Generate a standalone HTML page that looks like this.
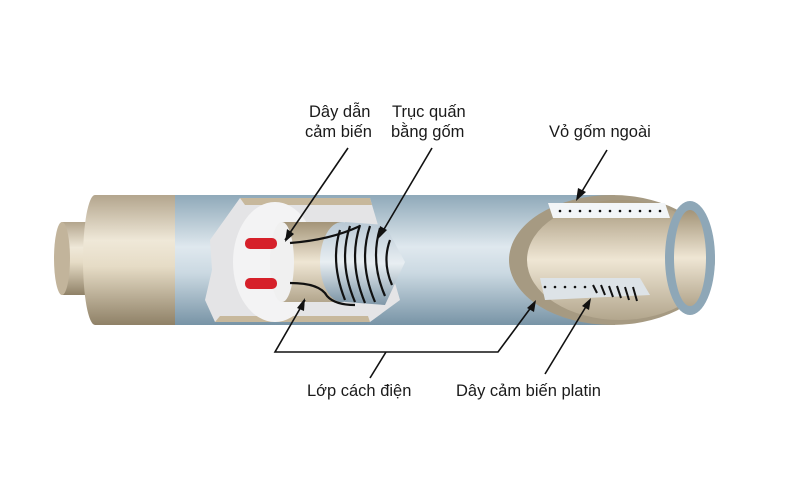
<!DOCTYPE html>
<html><head><meta charset="utf-8"><style>
body{margin:0;background:#fff;}
svg{display:block;}
text{font-family:"Liberation Sans",Arial,sans-serif;font-size:16.5px;fill:#1a1a1a;}
</style></head><body>
<svg width="800" height="500" viewBox="0 0 800 500">
<defs>
<linearGradient id="beige" x1="0" y1="0" x2="0" y2="1">
<stop offset="0" stop-color="#b3a58d"/><stop offset="0.35" stop-color="#efe8d8"/><stop offset="0.55" stop-color="#e6dcc6"/><stop offset="1" stop-color="#8f8167"/></linearGradient>
<linearGradient id="blue" x1="0" y1="0" x2="0" y2="1">
<stop offset="0" stop-color="#8fa9b9"/><stop offset="0.4" stop-color="#dfe8ee"/><stop offset="0.6" stop-color="#cbd9e2"/><stop offset="1" stop-color="#7894a6"/></linearGradient>
<linearGradient id="inner" x1="0" y1="0" x2="0" y2="1">
<stop offset="0" stop-color="#a39478"/><stop offset="0.5" stop-color="#efe6d4"/><stop offset="1" stop-color="#b3a68d"/></linearGradient>
<linearGradient id="core" x1="0" y1="0" x2="0" y2="1">
<stop offset="0" stop-color="#b8c8d4"/><stop offset="0.5" stop-color="#e8eef2"/><stop offset="1" stop-color="#7f97a8"/></linearGradient>
</defs>
<rect x="62" y="222" width="40" height="73" fill="url(#beige)"/>
<ellipse cx="62" cy="258.5" rx="8" ry="36.5" fill="#c2b49b"/>
<rect x="95" y="195" width="110" height="130" fill="url(#beige)"/>
<ellipse cx="95" cy="260" rx="12" ry="65" fill="url(#beige)"/>
<rect x="175" y="195" width="440" height="130" fill="url(#blue)"/>
<path d="M240 198 L370 198 L400 300 L370 322 L215 322 L205 300 L212 270 L210 240 Z" fill="#e4e4e6"/>
<path d="M240 198 L370 198 L372 205 L245 205 Z" fill="#c7b89c"/>
<path d="M215 322 L370 322 L368 316 L220 316 Z" fill="#c7b89c"/>
<ellipse cx="275" cy="262" rx="42" ry="60" fill="#f3f3f4"/>
<rect x="282" y="222" width="60" height="80" fill="url(#inner)"/>
<ellipse cx="282" cy="262" rx="12" ry="40" fill="#f0f0f0"/>
<path d="M345 222 L385 225 L405 262 L385 305 L345 302 Z" fill="url(#core)"/>
<ellipse cx="342" cy="262" rx="22" ry="40" fill="url(#core)"/>
<g stroke="#111" stroke-width="2.2" fill="none">
<path d="M340 230 Q330 262 345 300"/>
<path d="M350 226 Q338 262 355 302"/>
<path d="M360 225 Q348 262 365 303"/>
<path d="M370 226 Q358 262 375 302"/>
<path d="M380 228 Q370 262 385 296"/>
<path d="M390 240 Q382 262 392 285"/>
<path d="M290 243 Q330 240 360 226"/>
<path d="M290 283 Q320 283 327 296 Q335 305 355 305"/>
</g>
<rect x="245" y="238" width="32" height="11" rx="5" fill="#d6202a"/>
<rect x="245" y="278" width="32" height="11" rx="5" fill="#d6202a"/>
<ellipse cx="612" cy="260" rx="103" ry="65" fill="#a69a82"/>
<ellipse cx="620" cy="260" rx="93" ry="60" fill="url(#inner)"/>
<path d="M548 203 L665 203 L670 218 L553 218 Z" fill="#f2f5f7"/>
<path d="M540 278 L640 278 L650 295 L545 300 Z" fill="#dde3e7"/>
<g fill="#111">
<circle cx="560" cy="211" r="1.3"/><circle cx="570" cy="211" r="1.3"/><circle cx="580" cy="211" r="1.3"/><circle cx="590" cy="211" r="1.3"/><circle cx="600" cy="211" r="1.3"/><circle cx="610" cy="211" r="1.3"/><circle cx="620" cy="211" r="1.3"/><circle cx="630" cy="211" r="1.3"/><circle cx="640" cy="211" r="1.3"/><circle cx="650" cy="211" r="1.3"/><circle cx="660" cy="211" r="1.3"/>
<circle cx="545" cy="287" r="1.3"/><circle cx="555" cy="287" r="1.3"/><circle cx="565" cy="287" r="1.3"/><circle cx="575" cy="287" r="1.3"/><circle cx="585" cy="287" r="1.3"/>
</g>
<g stroke="#111" stroke-width="2"><line x1="593" y1="285" x2="597" y2="293"/><line x1="601" y1="285" x2="605" y2="295"/><line x1="609" y1="286" x2="613" y2="297"/><line x1="617" y1="286" x2="621" y2="298"/><line x1="625" y1="287" x2="629" y2="300"/><line x1="633" y1="287" x2="637" y2="301"/></g>
<ellipse cx="690" cy="258" rx="25" ry="57" fill="#8ea7b7"/>
<ellipse cx="690" cy="258" rx="16" ry="48" fill="url(#inner)"/>
<g stroke="#111" stroke-width="1.6" fill="none">
<line x1="348" y1="148" x2="285" y2="240"/>
<line x1="432" y1="148" x2="380" y2="236"/>
<line x1="607" y1="150" x2="578" y2="198"/>
<polyline points="305,300 275,352 498,352 535,302"/>
<line x1="386" y1="352" x2="370" y2="378"/>
<line x1="545" y1="374" x2="590" y2="300"/>
</g>
<g fill="#111">
<polygon points="285,242 287,229 294,234"/>
<polygon points="378,239 380,226 387,230"/>
<polygon points="576,201 578,188 586,192"/>
<polygon points="305,298 297,308 304,311"/>
<polygon points="536,300 527,308 534,312"/>
<polygon points="591,298 582,306 589,310"/>
</g>
<text x="309" y="117">Dây dẫn</text>
<text x="305" y="137">cảm biến</text>
<text x="392" y="117">Trục quấn</text>
<text x="391" y="137">bằng gốm</text>
<text x="549" y="137">Vỏ gốm ngoài</text>
<text x="307" y="396">Lớp cách điện</text>
<text x="456" y="396">Dây cảm biến platin</text>
</svg>
</body></html>
